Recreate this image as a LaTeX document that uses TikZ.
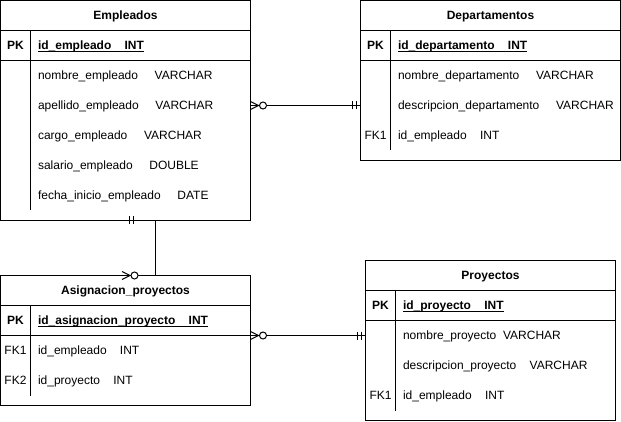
\documentclass[tikz,border=0pt]{standalone}
\usepackage{fontspec}
\setmainfont{Liberation Sans}
\usetikzlibrary{calc}
\newcommand{\gapsp}[1]{\hspace{#1}}
\begin{document}
\begin{tikzpicture}[x=1pt,y=-1pt,line width=1pt,
  every node/.style={font=\fontsize{12}{14}\selectfont,inner sep=0pt,outer sep=0pt},
  tbl/.style={draw=black,line width=1pt,anchor=north west,inner sep=0pt,outer sep=0pt},
  ttl/.style={anchor=base,font=\fontsize{12}{14}\selectfont\bfseries},
  attr/.style={anchor=base west},
  key/.style={anchor=base,font=\fontsize{12}{14}\selectfont},
  pkkey/.style={anchor=base,font=\fontsize{12}{14}\selectfont\bfseries},
  pkattr/.style={anchor=base west,font=\fontsize{12}{14}\selectfont\bfseries},
  uline/.style={line width=0.9pt},
  zeromany/.pic={
    \draw[line width=1pt] (0,-4) -- (8,0) -- (0,4);
    \draw[line width=1pt,fill=white] (12.5,0) circle[radius=3.5pt];
  },
  mandone/.pic={
    \draw[line width=1pt] (4,-4) -- (4,4);
    \draw[line width=1pt] (8,-4) -- (8,4);
  }
]
\useasboundingbox (0,0) rectangle (621,422);

% ---------- Empleados ----------
\node[tbl,minimum width=250pt,minimum height=220pt] (emp) at (0.5,0.5) {};
\draw ($(emp.north west)+(0,30)$) -- ($(emp.north east)+(0,30)$);
\draw ($(emp.north west)+(0,60)$) -- ($(emp.north east)+(0,60)$);
\draw ($(emp.north west)+(30,30)$) -- ($(emp.north west)+(30,210)$);
\node[ttl] (empT) at (125.5,19.5) {Empleados};
\node[pkkey] (empPK) at (15.5,49.5) {PK};
\node[pkattr] (empId) at (38,49.5) {id\_empleado\gapsp{13.3pt}INT};
\draw[uline] ($(empId.base west)+(0,2)$) -- ($(empId.base east)+(0,2)$);
\node[attr] (empA1) at (38,79.5) {nombre\_empleado\gapsp{16.7pt}VARCHAR};
\node[attr] (empA2) at (38,109.5) {apellido\_empleado\gapsp{16.7pt}VARCHAR};
\node[attr] (empA3) at (38,139.5) {cargo\_empleado\gapsp{16.7pt}VARCHAR};
\node[attr] (empA4) at (38,169.5) {salario\_empleado\gapsp{16.7pt}DOUBLE};
\node[attr] (empA5) at (38,199.5) {fecha\_inicio\_empleado\gapsp{16.7pt}DATE};

% ---------- Departamentos ----------
\node[tbl,minimum width=260pt,minimum height=160pt] (dep) at (360.5,0.5) {};
\draw ($(dep.north west)+(0,30)$) -- ($(dep.north east)+(0,30)$);
\draw ($(dep.north west)+(0,60)$) -- ($(dep.north east)+(0,60)$);
\draw ($(dep.north west)+(30,30)$) -- ($(dep.north west)+(30,150)$);
\node[ttl] (depT) at (490.5,19.5) {Departamentos};
\node[pkkey] (depPK) at (375.5,49.5) {PK};
\node[pkattr] (depId) at (398,49.5) {id\_departamento\gapsp{13.3pt}INT};
\draw[uline] ($(depId.base west)+(0,2)$) -- ($(depId.base east)+(0,2)$);
\node[attr] (depA1) at (398,79.5) {nombre\_departamento\gapsp{16.7pt}VARCHAR};
\node[attr] (depA2) at (398,109.5) {descripcion\_departamento\gapsp{16.7pt}VARCHAR};
\node[key] (depFK) at (375.5,139.5) {FK1};
\node[attr] (depA3) at (398,139.5) {id\_empleado\gapsp{13.3pt}INT};

% ---------- Asignacion_proyectos ----------
\node[tbl,minimum width=250pt,minimum height=130pt] (asg) at (0.5,275.5) {};
\draw ($(asg.north west)+(0,30)$) -- ($(asg.north east)+(0,30)$);
\draw ($(asg.north west)+(0,60)$) -- ($(asg.north east)+(0,60)$);
\draw ($(asg.north west)+(30,30)$) -- ($(asg.north west)+(30,120)$);
\node[ttl] (asgT) at (125.5,294.5) {Asignacion\_proyectos};
\node[pkkey] (asgPK) at (15.5,324.5) {PK};
\node[pkattr] (asgId) at (38,324.5) {id\_asignacion\_proyecto\gapsp{13.3pt}INT};
\draw[uline] ($(asgId.base west)+(0,2)$) -- ($(asgId.base east)+(0,2)$);
\node[key] (asgFK1) at (15.5,354.5) {FK1};
\node[attr] (asgA1) at (38,354.5) {id\_empleado\gapsp{13.3pt}INT};
\node[key] (asgFK2) at (15.5,384.5) {FK2};
\node[attr] (asgA2) at (38,384.5) {id\_proyecto\gapsp{13.3pt}INT};

% ---------- Proyectos ----------
\node[tbl,minimum width=250pt,minimum height=160pt] (pro) at (365.5,260.5) {};
\draw ($(pro.north west)+(0,30)$) -- ($(pro.north east)+(0,30)$);
\draw ($(pro.north west)+(0,60)$) -- ($(pro.north east)+(0,60)$);
\draw ($(pro.north west)+(30,30)$) -- ($(pro.north west)+(30,150)$);
\node[ttl] (proT) at (490.5,279.5) {Proyectos};
\node[pkkey] (proPK) at (380.5,309.5) {PK};
\node[pkattr] (proId) at (403,309.5) {id\_proyecto\gapsp{13.3pt}INT};
\draw[uline] ($(proId.base west)+(0,2)$) -- ($(proId.base east)+(0,2)$);
\node[attr] (proA1) at (403,339.5) {nombre\_proyecto\gapsp{6.7pt}VARCHAR};
\node[attr] (proA2) at (403,369.5) {descripcion\_proyecto\gapsp{13.3pt}VARCHAR};
\node[key] (proFK) at (380.5,399.5) {FK1};
\node[attr] (proA3) at (403,399.5) {id\_empleado\gapsp{13.3pt}INT};

% ---------- Relationships ----------
% Empleados (zero or many) -- Departamentos (exactly one)
\coordinate (r1a) at ($(emp.north east)+(0,105)$);
\coordinate (r1b) at (dep.west |- r1a);
\draw (r1a) -- (r1b);
\pic at (r1a) {zeromany};
\pic[rotate=180] at (r1b) {mandone};

% Empleados (exactly one) -- Asignacion_proyectos (zero or many)
\coordinate (r2a) at ($(emp.south west)+(125,0)$);
\coordinate (r2k1) at ($(emp.south west)+(155,0)$);
\coordinate (r2b) at ($(asg.north west)+(121.5,0)$);
\coordinate (r2k2) at ($(asg.north west)+(155,0)$);
\draw (r2a) -- (r2k1) -- (r2k2) -- (r2b);
\pic at (r2a) {mandone};
\pic at (r2b) {zeromany};

% Asignacion_proyectos (zero or many) -- Proyectos (exactly one)
\coordinate (r3a) at ($(asg.north east)+(0,60)$);
\coordinate (r3b) at (pro.west |- r3a);
\draw (r3a) -- (r3b);
\pic at (r3a) {zeromany};
\pic[rotate=180] at (r3b) {mandone};
\end{tikzpicture}
\end{document}
